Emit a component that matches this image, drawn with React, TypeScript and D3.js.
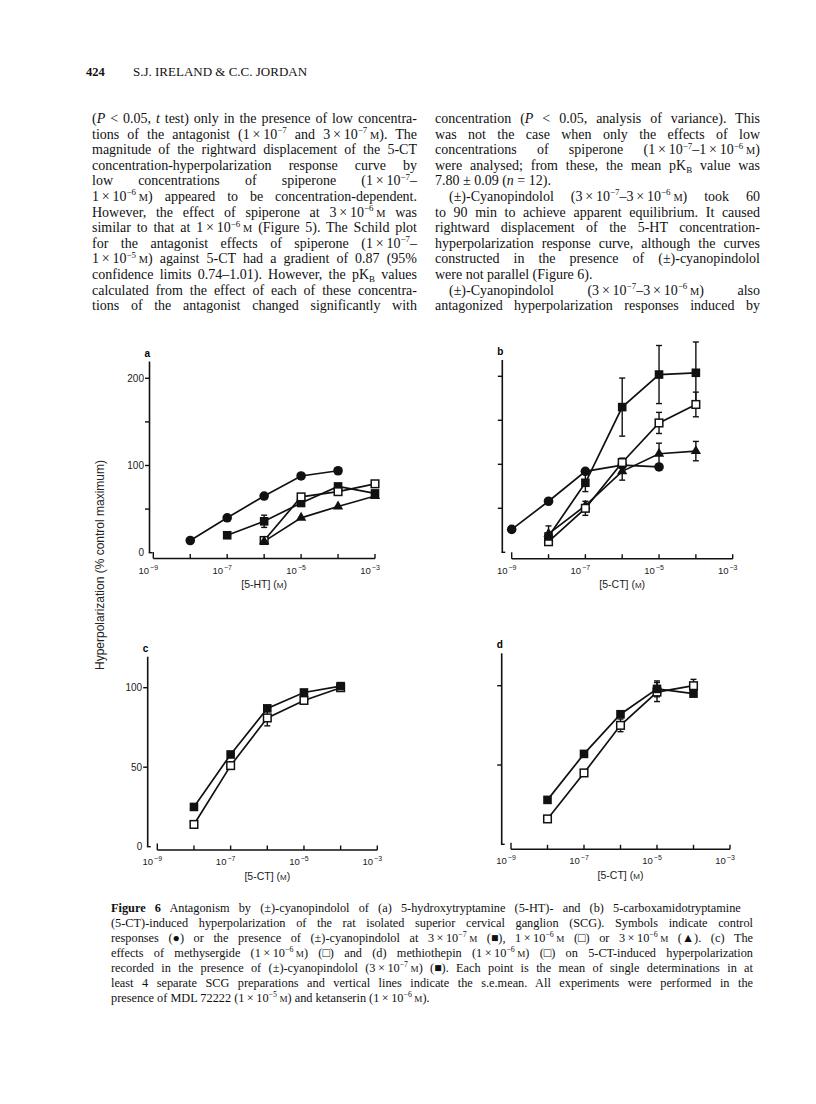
import React, { useEffect, useRef } from "react";
import * as d3 from "d3";

// concentrations are log10 (M)
const decades = [-9, -8, -7, -6, -5, -4, -3];
const labelDecades = [-9, -7, -5, -3];

// (a) 5-HT
const aControlX = [-8, -7, -6, -5, -4];
const aControlY = [14, 40, 65, 88, 94];
const aCyan3e7X = [-7, -6, -5, -4, -3];
const aCyan3e7Y = [20, 36, 57, 76, 68];
const aCyan3e7Err = [0, 7, 0, 0, 0];
const aCyan1e6X = [-6, -5, -4, -3];
const aCyan1e6Y = [14, 64, 70, 79];
const aCyan3e6X = [-6, -5, -4, -3];
const aCyan3e6Y = [13, 40, 53, 65];

// (b) 5-CT
const bControlX = [-9, -8, -7, -6, -5];
const bControlY = [26, 58, 92, 99, 97];
const bCyan3e7X = [-8, -7, -6, -5, -4];
const bCyan3e7Y = [18, 79, 165, 202, 204];
const bCyan3e7Err = [0, 10, 33, 33, 35];
const bCyan1e6X = [-8, -7, -6, -5, -4];
const bCyan1e6Y = [12, 50, 102, 147, 168];
const bCyan1e6Err = [0, 8, 5, 12, 14];
const bCyan3e6X = [-8, -7, -6, -5, -4];
const bCyan3e6Y = [21, 53, 92, 112, 115];
const bCyan3e6Err = [9, 0, 10, 12, 11];

// (c) methysergide, (d) methiothepin
const cdX = [-8, -7, -6, -5, -4];
const cCyanY = [25, 58, 87, 97, 101];
const cMethyY = [14, 51, 81, 92, 100];
const cMethyErr = [0, 0, 5, 0, 0];
const dCyanY = [28, 57, 82, 98, 95];
const dCyanErr = [0, 0, 0, 5, 0];
const dMethioY = [16, 45, 75, 96, 100];
const dMethioErr = [0, 0, 4, 6, 4];

const header = ["424", "S.J. IRELAND & C.C. JORDAN"];

const leftCol = [
  "(i{P} < 0.05, i{t} test) only in the presence of low concentra-",
  "tions of the antagonist (1 × 10^{−7} and 3 × 10^{−7} s{M}). The",
  "magnitude of the rightward displacement of the 5-CT",
  "concentration-hyperpolarization response curve by",
  "low concentrations of spiperone (1 × 10^{−7}–",
  "1 × 10^{−6} s{M}) appeared to be concentration-dependent.",
  "However, the effect of spiperone at 3 × 10^{−6} s{M} was",
  "similar to that at 1 × 10^{−6} s{M} (Figure 5). The Schild plot",
  "for the antagonist effects of spiperone (1 × 10^{−7}–",
  "1 × 10^{−5} s{M}) against 5-CT had a gradient of 0.87 (95%",
  "confidence limits 0.74–1.01). However, the pK_{B} values",
  "calculated from the effect of each of these concentra-",
  "tions of the antagonist changed significantly with",
];

const rightCol = [
  "concentration (i{P} < 0.05, analysis of variance). This",
  "was not the case when only the effects of low",
  "concentrations of spiperone (1 × 10^{−7}–1 × 10^{−6} s{M})",
  "were analysed; from these, the mean pK_{B} value was",
  "7.80 ± 0.09 (i{n} = 12).",
  "(±)-Cyanopindolol (3 × 10^{−7}–3 × 10^{−6} s{M}) took 60",
  "to 90 min to achieve apparent equilibrium. It caused",
  "rightward displacement of the 5-HT concentration-",
  "hyperpolarization response curve, although the curves",
  "constructed in the presence of (±)-cyanopindolol",
  "were not parallel (Figure 6).",
  "(±)-Cyanopindolol (3 × 10^{−7}–3 × 10^{−6} s{M}) also",
  "antagonized hyperpolarization responses induced by",
];
const rightIndent = [5, 11];
const rightRagged = [4, 10];

const caption = [
  "b{Figure 6}   Antagonism by (±)-cyanopindolol of (a) 5-hydroxytryptamine (5-HT)- and (b) 5-carboxamidotryptamine",
  "(5-CT)-induced hyperpolarization of the rat isolated superior cervical ganglion (SCG). Symbols indicate control",
  "responses (●) or the presence of (±)-cyanopindolol at 3 × 10^{−7} s{M} (■), 1 × 10^{−6} s{M} (□) or 3 × 10^{−6} s{M} (▲). (c) The",
  "effects of methysergide (1 × 10^{−6} s{M}) (□) and (d) methiothepin (1 × 10^{−6} s{M}) (□) on 5-CT-induced hyperpolarization",
  "recorded in the presence of (±)-cyanopindolol (3 × 10^{−7} s{M}) (■). Each point is the mean of single determinations in at",
  "least 4 separate SCG preparations and vertical lines indicate the s.e.mean. All experiments were performed in the",
  "presence of MDL 72222 (1 × 10^{−5} s{M}) and ketanserin (1 × 10^{−6} s{M}).",
];

const yTitle = "Hyperpolarization (% control maximum)";

type Seg = { t: string; k: string };
function parse(s: string): Seg[] {
  // thin spaces inside the concentrations so justification only widens the word gaps
  s = s.replace(/ × /g, "\u2009×\u2009").replace(/\} s\{M\}/g, "}\u2009s{M}");
  const out: Seg[] = [];
  const re = /([\^_isb])\{([^}]*)\}/g;
  let last = 0;
  let m: RegExpExecArray | null;
  while ((m = re.exec(s))) {
    if (m.index > last) out.push({ t: s.slice(last, m.index), k: "" });
    out.push({ t: m[2], k: m[1] });
    last = re.lastIndex;
  }
  if (last < s.length) out.push({ t: s.slice(last), k: "" });
  return out;
}

function Rich({ s, size }: { s: string; size: number }) {
  let shift = 0;
  return (
    <>
      {parse(s).map((g, i) => {
        const target = g.k === "^" ? -size * 0.4 : g.k === "_" ? size * 0.22 : 0;
        const dy = target - shift;
        shift = target;
        let fs: number | undefined;
        if (g.k === "^" || g.k === "_") fs = size * 0.64;
        if (g.k === "s") fs = size * 0.74;
        return (
          <tspan
            key={i}
            dy={dy ? dy : undefined}
            fontSize={fs}
            fontStyle={g.k === "i" ? "italic" : undefined}
            fontWeight={g.k === "b" ? "bold" : undefined}
          >
            {g.t}
          </tspan>
        );
      })}
    </>
  );
}

const serif = "'Liberation Serif', 'Times New Roman', serif";
const sans = "'Liberation Sans', Arial, sans-serif";

export default function App() {
  const chartRef = useRef<SVGGElement>(null);
  const svgRef = useRef<SVGSVGElement>(null);

  useEffect(() => {
    // justify the text lines with word spacing
    d3.select(svgRef.current)
      .selectAll<SVGTextElement, unknown>("text.just")
      .each(function () {
        const el = this;
        el.setAttribute("word-spacing", "0");
        const target = +(el.getAttribute("data-w") || 0);
        const nat = el.getComputedTextLength();
        const spaces = (el.textContent || "").match(/ /g)?.length || 0;
        if (spaces > 0) el.setAttribute("word-spacing", String((target - nat) / spaces));
      });

    const root = d3.select(chartRef.current);
    root.selectAll("*").remove();

    const panels = [
      {
        letter: "a", x0: 153.3, x1: 375, axisY: 558.5, yx: 149.5, y0: 552.7, y100: 465.5, top: 361.5,
        yTicks: [50, 100, 150, 200], yLabels: [0, 100, 200], xTitle: "[5-HT] (",
        series: [
          { x: aControlX, y: aControlY, err: [] as number[], sym: "circle" },
          { x: aCyan3e7X, y: aCyan3e7Y, err: aCyan3e7Err, sym: "fsq" },
          { x: aCyan1e6X, y: aCyan1e6Y, err: [] as number[], sym: "osq" },
          { x: aCyan3e6X, y: aCyan3e6Y, err: [] as number[], sym: "tri" },
        ],
      },
      {
        letter: "b", x0: 511.7, x1: 732.7, axisY: 558.7, yx: 502.3, y0: 552.3, y100: 464.3, top: 360,
        yTicks: [50, 100, 150, 200], yLabels: [] as number[], xTitle: "[5-CT] (",
        series: [
          { x: bControlX, y: bControlY, err: [] as number[], sym: "circle" },
          { x: bCyan3e6X, y: bCyan3e6Y, err: bCyan3e6Err, sym: "tri" },
          { x: bCyan1e6X, y: bCyan1e6Y, err: bCyan1e6Err, sym: "osq" },
          { x: bCyan3e7X, y: bCyan3e7Y, err: bCyan3e7Err, sym: "fsq" },
        ],
      },
      {
        letter: "c", x0: 157.3, x1: 377.3, axisY: 850, yx: 147.7, y0: 846.7, y100: 687.7, top: 656.7,
        yTicks: [50, 100], yLabels: [0, 50, 100], xTitle: "[5-CT] (",
        series: [
          { x: cdX, y: cMethyY, err: cMethyErr, sym: "osq" },
          { x: cdX, y: cCyanY, err: [] as number[], sym: "fsq" },
        ],
      },
      {
        letter: "d", x0: 511, x1: 730, axisY: 849.3, yx: 501.7, y0: 844.3, y100: 685.7, top: 653.3,
        yTicks: [50, 100], yLabels: [] as number[], xTitle: "[5-CT] (",
        series: [
          { x: cdX, y: dMethioY, err: dMethioErr, sym: "osq" },
          { x: cdX, y: dCyanY, err: dCyanErr, sym: "fsq" },
        ],
      },
    ];

    panels.forEach((p) => {
      const g = root.append("g");
      const x = d3.scaleLinear().domain([-9, -3]).range([p.x0, p.x1]);
      const y = d3.scaleLinear().domain([0, 100]).range([p.y0, p.y100]);

      // y axis
      g.append("line").attr("x1", p.yx).attr("x2", p.yx).attr("y1", p.y0).attr("y2", p.top)
        .attr("stroke", "#111").attr("stroke-width", 1.6);
      g.append("line").attr("x1", p.yx - 0.8).attr("x2", p.yx + 3).attr("y1", p.y0).attr("y2", p.y0)
        .attr("stroke", "#111").attr("stroke-width", 1.4);
      g.selectAll(".yt").data(p.yTicks).enter().append("line")
        .attr("x1", p.yx - 4.5).attr("x2", p.yx).attr("y1", (d) => y(d)).attr("y2", (d) => y(d))
        .attr("stroke", "#111").attr("stroke-width", 1.4);
      g.selectAll(".yl").data(p.yLabels).enter().append("text")
        .attr("x", p.yx - 5.5).attr("y", (d) => y(d) + 3.5).attr("text-anchor", "end")
        .attr("font-family", sans).attr("font-size", 10).attr("fill", "#222").text((d) => d);
      g.append("text").attr("x", p.yx - 5).attr("y", p.top - 5).attr("font-family", sans)
        .attr("font-weight", "bold").attr("font-size", 10).text(p.letter);

      // x axis
      g.append("line").attr("x1", x(-9)).attr("x2", x(-3)).attr("y1", p.axisY).attr("y2", p.axisY)
        .attr("stroke", "#111").attr("stroke-width", 1.6);
      g.selectAll(".xt").data(decades).enter().append("line")
        .attr("x1", (d) => x(d)).attr("x2", (d) => x(d))
        .attr("y1", p.axisY).attr("y2", (d) => p.axisY - (d === -9 ? 6.5 : 4.5))
        .attr("stroke", "#111").attr("stroke-width", 1.4);
      const tl = g.selectAll(".xl").data(labelDecades).enter().append("text")
        .attr("x", (d) => x(d) - 5).attr("y", p.axisY + 15).attr("text-anchor", "middle")
        .attr("font-family", sans).attr("font-size", 9.5).attr("fill", "#222");
      tl.append("tspan").text("10");
      tl.append("tspan").attr("dy", -4).attr("font-size", 7).attr("dx", 1).text((d) => "−" + -d);
      const xt = g.append("text").attr("x", (p.x0 + p.x1) / 2).attr("y", p.axisY + 29.5)
        .attr("text-anchor", "middle").attr("font-family", sans).attr("font-size", 10.5).attr("fill", "#222");
      xt.append("tspan").text(p.xTitle);
      xt.append("tspan").attr("font-size", 8).text("M");
      xt.append("tspan").text(")");

      const line = d3.line<[number, number]>().x((d) => x(d[0])).y((d) => y(d[1]));

      p.series.forEach((s) => {
        const pts: [number, number][] = s.x.map((v, i) => [v, s.y[i]]);
        g.append("path").attr("d", line(pts)).attr("fill", "none").attr("stroke", "#111").attr("stroke-width", 1.7);
        s.err.forEach((e, i) => {
          if (!e) return;
          const cx = x(s.x[i]);
          [s.y[i] + e, s.y[i] - e].forEach((v) => {
            g.append("line").attr("x1", cx).attr("x2", cx).attr("y1", y(s.y[i])).attr("y2", y(v))
              .attr("stroke", "#111").attr("stroke-width", 1.4);
            g.append("line").attr("x1", cx - 3).attr("x2", cx + 3).attr("y1", y(v)).attr("y2", y(v))
              .attr("stroke", "#111").attr("stroke-width", 1.4);
          });
        });
      });
      p.series.forEach((s) => {
        s.x.forEach((v, i) => {
          const cx = x(v);
          const cy = y(s.y[i]);
          if (s.sym === "circle") {
            g.append("circle").attr("cx", cx).attr("cy", cy).attr("r", 4.8).attr("fill", "#111");
          } else if (s.sym === "fsq") {
            g.append("rect").attr("x", cx - 4.3).attr("y", cy - 4.3).attr("width", 8.6).attr("height", 8.6).attr("fill", "#111");
          } else if (s.sym === "osq") {
            g.append("rect").attr("x", cx - 3.8).attr("y", cy - 3.8).attr("width", 7.6).attr("height", 7.6)
              .attr("fill", "#fff").attr("stroke", "#111").attr("stroke-width", 1.5);
          } else {
            g.append("path").attr("d", d3.symbol(d3.symbolTriangle, 46)()).attr("transform", `translate(${cx},${cy})`)
              .attr("fill", "#111");
          }
        });
      });
    });

    // shared y title
    root.append("text").attr("transform", "translate(104,565) rotate(-90)").attr("text-anchor", "middle")
      .attr("font-family", sans).attr("font-size", 12).attr("fill", "#222").text(yTitle);
  }, []);

  const bodySize = 14;
  const lineStep = 15.6;
  const firstBase = 123;
  const capSize = 12.3;

  return (
    <svg ref={svgRef} width={816} height={1104} style={{ position: "absolute", left: 0, top: 0, background: "#fff" }}>
      <rect width={816} height={1104} fill="#fff" />
      <g fontFamily={serif} fill="#111">
        <text x={86} y={76} fontSize={12.5} fontWeight="bold">{header[0]}</text>
        <text x={133} y={76} fontSize={13}>{header[1]}</text>
        {leftCol.map((s, i) => (
          <text key={"l" + i} className="just" data-w={325} x={92} y={firstBase + i * lineStep} fontSize={bodySize}>
            <Rich s={s} size={bodySize} />
          </text>
        ))}
        {rightCol.map((s, i) => {
          const ind = rightIndent.includes(i) ? 14 : 0;
          const ragged = rightRagged.includes(i);
          return (
            <text key={"r" + i} className={ragged ? "" : "just"} data-w={325 - ind} x={435 + ind}
              y={firstBase + i * lineStep} fontSize={bodySize}>
              <Rich s={s} size={bodySize} />
            </text>
          );
        })}
        {caption.map((s, i) => (
          <text key={"c" + i} className={i === caption.length - 1 ? "" : "just"} data-w={642} x={111}
            y={912 + i * 15} fontSize={capSize}>
            <Rich s={s} size={capSize} />
          </text>
        ))}
      </g>
      <g ref={chartRef} />
    </svg>
  );
}
